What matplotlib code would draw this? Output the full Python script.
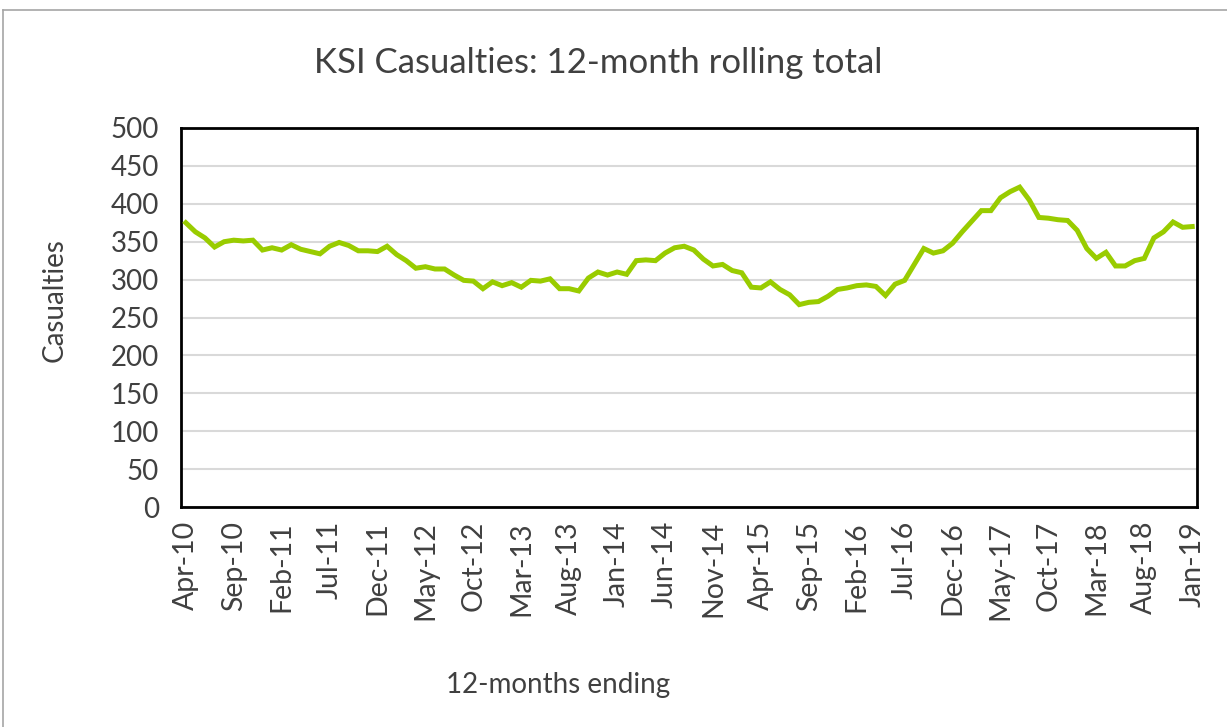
import matplotlib
matplotlib.use('Agg')
import matplotlib.pyplot as plt
from matplotlib.lines import Line2D
import numpy as np

# 12-month rolling KSI totals, Apr-10 .. Jan-19 (one value per month)
casualties = [375, 363, 355, 343, 350, 352, 351, 352, 339, 342,
              339, 346, 340, 337, 334, 344, 349, 345, 338, 338,
              337, 344, 333, 325, 315, 317, 314, 314, 306, 299,
              298, 288, 297, 292, 296, 290, 299, 298, 301, 288,
              288, 285, 302, 310, 306, 310, 307, 325, 326, 325,
              335, 342, 344, 339, 327, 318, 320, 312, 309, 290,
              289, 297, 287, 280, 267, 270, 271, 278, 287, 289,
              292, 293, 291, 279, 294, 299, 320, 341, 335, 338,
              348, 363, 377, 391, 391, 408, 416, 422, 405, 382,
              381, 379, 378, 365, 341, 328, 336, 318, 318, 325,
              328, 355, 363, 376, 369, 370]
month_names = ['Jan', 'Feb', 'Mar', 'Apr', 'May', 'Jun',
               'Jul', 'Aug', 'Sep', 'Oct', 'Nov', 'Dec']
start_year = 2010
start_month = 3  # April, zero based
y_ticks = list(range(0, 501, 50))

labels = []
for i in range(len(casualties)):
    m = (start_month + i) % 12
    y = start_year + (start_month + i) // 12
    labels.append('%s-%02d' % (month_names[m], y % 100))

txt = '#404040'
plt.rcParams['font.family'] = ['Lato', 'DejaVu Sans']

fig = plt.figure(figsize=(12.27, 7.27), dpi=100)
ax = fig.add_axes([181/1227, 1-507/727, (1197-181)/1227, (507-128)/727])

x = np.arange(len(casualties))
ax.plot(x, casualties, color='#99cc00', lw=3.6, solid_joinstyle='miter', zorder=3)

ax.set_xlim(-0.5, len(casualties) - 0.5)
ax.set_ylim(0, 500)
ax.set_yticks(y_ticks)
ax.yaxis.grid(True, color='#d9d9d9', lw=1.5)
ax.set_axisbelow(True)
tick_idx = x[::5]
ax.set_xticks(tick_idx)
ax.set_xticklabels([labels[i] for i in tick_idx], rotation=90)
ax.tick_params(axis='both', length=0, labelsize=20, colors=txt)
ax.tick_params(axis='x', labelsize=20.5, pad=10)
ax.tick_params(axis='y', pad=16)
for s in ax.spines.values():
    s.set_linewidth(2)
    s.set_color('black')

fig.text(598/1227, 1-63/727, 'KSI Casualties: 12-month rolling total',
         ha='center', va='center', fontsize=25, color=txt)
fig.text(55/1227, 1-300/727, 'Casualties', rotation=90,
         ha='center', va='center', fontsize=20, color=txt)
fig.text(558/1227, 1-685/727, '12-months ending',
         ha='center', va='center', fontsize=20, color=txt)

# chart frame (top and left edges visible)
fig.add_artist(Line2D([3/1227, 1.0], [1-10/727, 1-10/727], transform=fig.transFigure,
                      color='#a6a6a6', lw=1.2))
fig.add_artist(Line2D([3/1227, 3/1227], [0, 1-10/727], transform=fig.transFigure,
                      color='#a6a6a6', lw=1.2))

fig.savefig('out.png', dpi=100)
